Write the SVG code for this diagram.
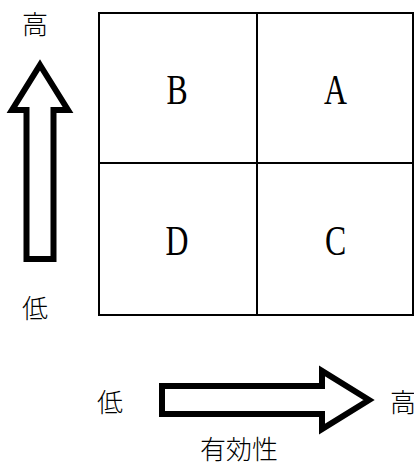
<svg xmlns="http://www.w3.org/2000/svg" width="414" height="467" viewBox="0 0 414 467">
<style>
.cjk{font-family:"Noto Sans CJK JP","Noto Sans CJK SC",sans-serif;font-size:26px;fill:#000;font-weight:300}
.lt{font-family:"Liberation Serif",serif;font-size:43px;fill:#000;text-anchor:middle}
.arrow{fill:#fff;stroke:#000;stroke-width:6;stroke-linejoin:miter;stroke-miterlimit:10}
.grid{fill:none;stroke:#000;stroke-width:2}
</style>
<rect width="414" height="467" fill="#fff"/>
<g id="matrix">
<rect class="grid" x="99" y="13" width="314" height="302"/>
<line class="grid" x1="257" y1="13" x2="257" y2="315"/>
<line class="grid" x1="99" y1="163" x2="413" y2="163"/>
</g>
<g id="cell-B"><text class="lt" transform="translate(177,104) scale(0.74,1)">B</text></g>
<g id="cell-A"><text class="lt" transform="translate(335.5,104) scale(0.74,1)">A</text></g>
<g id="cell-D"><text class="lt" transform="translate(177,255) scale(0.74,1)">D</text></g>
<g id="cell-C"><text class="lt" transform="translate(335.5,255) scale(0.74,1)">C</text></g>
<g id="connectors">
<polygon class="arrow" points="40,65 68,110 53.5,110 53.5,259 26.5,259 26.5,110 12,110"/>
<polygon class="arrow" points="162,386 322,386 322,371 369,400 322,429 322,414 162,414"/>
</g>
<g id="labels">
<text class="cjk" x="22" y="34">高</text>
<text class="cjk" x="22" y="318">低</text>
<text class="cjk" x="97" y="412">低</text>
<text class="cjk" x="390" y="412">高</text>
<text class="cjk" x="200" y="459">有効性</text>
</g>
</svg>
